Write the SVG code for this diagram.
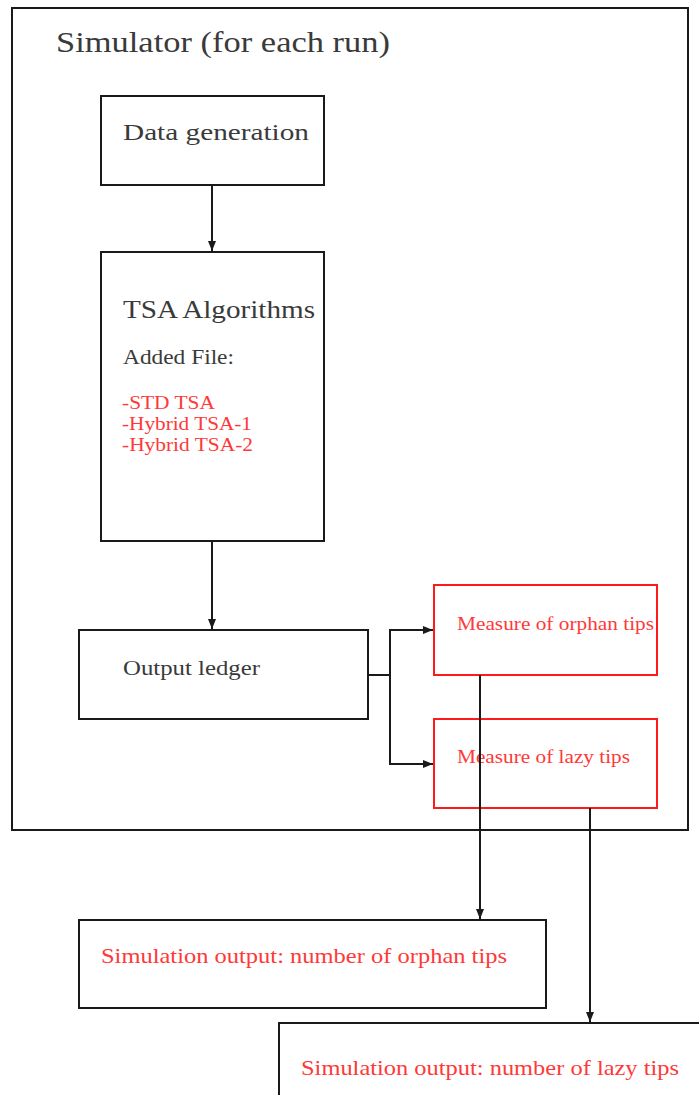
<svg xmlns="http://www.w3.org/2000/svg" width="699" height="1095" viewBox="0 0 699 1095">
<defs>
<style>
.box{fill:#fff;stroke:#1a1a1a;stroke-width:2}
.rbox{fill:#fff;stroke:#ff1a1a;stroke-width:2}
.t{font-family:"Liberation Serif",serif;fill:#3a3a3a}
.r{font-family:"Liberation Serif",serif;fill:#ff3838}
.c{fill:none;stroke:#1a1a1a;stroke-width:2}
</style>
<marker id="ah" viewBox="0 0 10 10" refX="10" refY="5" markerWidth="5" markerHeight="5" orient="auto" markerUnits="strokeWidth">
<path d="M0,1 L10,5 L0,9 z" fill="#1a1a1a"/>
</marker>
</defs>
<rect width="699" height="1095" fill="#fff"/>
<g id="simulator">
<rect class="box" x="12" y="8" width="676" height="822"/>
<text class="t" x="56" y="52" font-size="29" textLength="334" lengthAdjust="spacingAndGlyphs">Simulator (for each run)</text>
</g>
<g id="data-generation">
<rect class="box" x="101" y="96" width="223" height="89"/>
<text class="t" x="123" y="140" font-size="24" textLength="186" lengthAdjust="spacingAndGlyphs">Data generation</text>
</g>
<g id="tsa-algorithms">
<rect class="box" x="101" y="252" width="223" height="289"/>
<text class="t" x="123" y="318" font-size="25" textLength="192" lengthAdjust="spacingAndGlyphs">TSA Algorithms</text>
<text class="t" x="123" y="364" font-size="20" textLength="111" lengthAdjust="spacingAndGlyphs">Added File:</text>
<text class="r" x="122" y="409" font-size="18" textLength="93" lengthAdjust="spacingAndGlyphs">-STD TSA</text>
<text class="r" x="122" y="430" font-size="18" textLength="130" lengthAdjust="spacingAndGlyphs">-Hybrid TSA-1</text>
<text class="r" x="122" y="451" font-size="18" textLength="131" lengthAdjust="spacingAndGlyphs">-Hybrid TSA-2</text>
</g>
<g id="output-ledger">
<rect class="box" x="79" y="630" width="289" height="89"/>
<text class="t" x="123" y="675" font-size="21" textLength="137" lengthAdjust="spacingAndGlyphs">Output ledger</text>
</g>
<g id="measure-orphan">
<rect class="rbox" x="434" y="585" width="223" height="90"/>
<text class="r" x="457" y="630" font-size="18" textLength="197" lengthAdjust="spacingAndGlyphs">Measure of orphan tips</text>
</g>
<g id="measure-lazy">
<rect class="rbox" x="434" y="719" width="223" height="89"/>
<text class="r" x="457" y="763" font-size="18" textLength="173" lengthAdjust="spacingAndGlyphs">Measure of lazy tips</text>
</g>
<g id="sim-output-orphan">
<rect class="box" x="79" y="920" width="467" height="88"/>
<text class="r" x="101" y="963" font-size="21" textLength="406" lengthAdjust="spacingAndGlyphs">Simulation output: number of orphan tips</text>
</g>
<g id="sim-output-lazy">
<rect class="box" x="279" y="1023" width="430" height="90"/>
<text class="r" x="301" y="1075" font-size="21" textLength="378" lengthAdjust="spacingAndGlyphs">Simulation output: number of lazy tips</text>
</g>
<g id="connectors">
<line class="c" x1="212" y1="185" x2="212" y2="251" marker-end="url(#ah)"/>
<line class="c" x1="212" y1="541" x2="212" y2="629" marker-end="url(#ah)"/>
<polyline class="c" points="368,675 390,675 390,630 433,630" marker-end="url(#ah)"/>
<polyline class="c" points="390,675 390,764 433,764" marker-end="url(#ah)"/>
<line class="c" x1="480" y1="675" x2="480" y2="919" marker-end="url(#ah)"/>
<line class="c" x1="590" y1="808" x2="590" y2="1022" marker-end="url(#ah)"/>
</g>
</svg>
